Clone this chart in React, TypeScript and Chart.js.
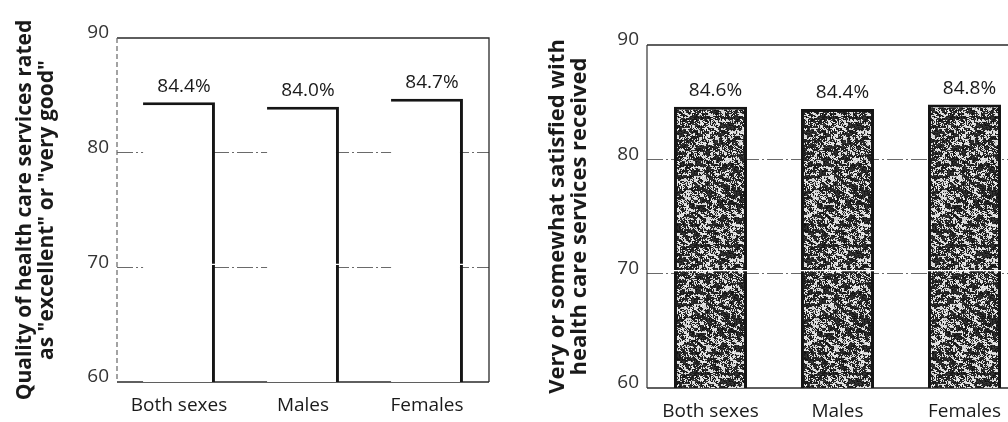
import React, { useEffect, useRef } from "react";
import { Chart, registerables } from "chart.js";

Chart.register(...registerables);

// Survey results, per cent of respondents
const categories = ["Both sexes", "Males", "Females"];
const qualityValues = [84.4, 84.0, 84.7];
const satisfiedValues = [84.6, 84.4, 84.8];
const yTicks = [60, 70, 80, 90];
const gridValues = [70, 80];
const qualityTitle = [
  "Quality of health care services rated",
  'as "excellent" or "very good"',
];
const satisfiedTitle = [
  "Very or somewhat satisfied with",
  "health care services received",
];

const FONT = "'Open Sans', 'DejaVu Sans', sans-serif";
const INK = "#1a1a1a";

// Speckled print texture used to fill the satisfaction bars
function makeStipple(): CanvasPattern | string {
  const size = 128;
  const c = document.createElement("canvas");
  c.width = size;
  c.height = size;
  const g = c.getContext("2d");
  if (!g) return "#2a2a2a";
  let s = 982451653;
  const rnd = () => {
    s = (s * 1103515245 + 12345) & 0x7fffffff;
    return s / 0x7fffffff;
  };
  const block = 3;
  const cs = Math.ceil(size / block);
  const coarse: number[] = [];
  for (let i = 0; i < cs * cs; i++) coarse.push(rnd());
  const mid = (y: number, x: number) => {
    const a = coarse[(Math.floor(y / block) % cs) * cs + (Math.floor(x / block) % cs)];
    const b = coarse[(Math.floor((y + 1) / block) % cs) * cs + (Math.floor((x + 2) / block) % cs)];
    return (a + b) / 2;
  };
  const img = g.createImageData(size, size);
  for (let y = 0; y < size; y++) {
    for (let x = 0; x < size; x++) {
      const v = 0.6 * mid(y, x) + 0.4 * rnd();
      const light = v > 0.56;
      const shade = light ? 195 + Math.floor(rnd() * 50) : 15 + Math.floor(rnd() * 45);
      const o = (y * size + x) * 4;
      img.data[o] = shade;
      img.data[o + 1] = shade;
      img.data[o + 2] = shade;
      img.data[o + 3] = 255;
    }
  }
  g.putImageData(img, 0, 0);
  return g.createPattern(c, "repeat") || "#2a2a2a";
}

type FrameOpts = {
  leftDash: number[];
  leftColor: string;
  drawRight: boolean;
};

function framePlugin(opts: FrameOpts) {
  return {
    id: "frame",
    beforeDatasetsDraw(chart: any) {
      const { ctx, chartArea: a } = chart;
      ctx.save();
      ctx.strokeStyle = "#2a2a2a";
      ctx.lineWidth = 1.3;
      ctx.beginPath();
      ctx.moveTo(a.left, a.top);
      ctx.lineTo(a.right, a.top);
      if (opts.drawRight) ctx.lineTo(a.right, a.bottom);
      ctx.stroke();
      ctx.lineWidth = 1.5;
      ctx.beginPath();
      ctx.moveTo(a.left, a.bottom);
      ctx.lineTo(a.right, a.bottom);
      ctx.stroke();
      ctx.setLineDash(opts.leftDash);
      ctx.strokeStyle = opts.leftColor;
      ctx.lineWidth = 1.2;
      ctx.beginPath();
      ctx.moveTo(a.left, a.top);
      ctx.lineTo(a.left, a.bottom);
      ctx.stroke();
      ctx.restore();
    },
    afterDatasetsDraw(chart: any) {
      const { ctx } = chart;
      const yScale = chart.scales.y;
      const meta = chart.getDatasetMeta(0);
      const y70 = yScale.getPixelForValue(70) - 3;
      ctx.save();
      // thin break line running through the bars at the 70 level
      ctx.strokeStyle = "#ffffff";
      ctx.lineWidth = 1.4;
      meta.data.forEach((bar: any) => {
        const half = bar.width / 2;
        ctx.beginPath();
        ctx.moveTo(bar.x - half, y70);
        ctx.lineTo(bar.x + half, y70);
        ctx.stroke();
      });
      // value labels above each bar
      ctx.fillStyle = INK;
      ctx.font = `19px ${FONT}`;
      ctx.textAlign = "center";
      ctx.textBaseline = "middle";
      const values = chart.data.datasets[0].data as number[];
      meta.data.forEach((bar: any, i: number) => {
        ctx.fillText(`${values[i].toFixed(1)}%`, bar.x + 5, bar.y - 16);
      });
      ctx.restore();
    },
  };
}

type PanelProps = {
  values: number[];
  title: string[];
  width: number;
  padTop: number;
  padRight: number;
  axisWidth: number;
  xHeight: number;
  xPad: number;
  titlePad: number;
  titleSize: number;
  barPct: number;
  stippled: boolean;
  leftDash: number[];
  leftColor: string;
  drawRight: boolean;
};

function Panel(p: PanelProps) {
  const ref = useRef<HTMLCanvasElement | null>(null);
  useEffect(() => {
    if (!ref.current) return;
    const fill = p.stippled ? makeStipple() : "#ffffff";
    const chart = new Chart(ref.current, {
      type: "bar",
      data: {
        labels: categories,
        datasets: [
          {
            data: p.values,
            backgroundColor: fill as any,
            borderColor: "#151515",
            borderWidth: p.stippled
              ? 3
              : ({ top: 3, right: 3, left: 0, bottom: 0 } as any),
            borderSkipped: false,
            barPercentage: p.barPct,
            categoryPercentage: 1,
          },
        ],
      },
      options: {
        responsive: false,
        animation: false,
        layout: { padding: { left: 0, right: p.padRight, top: p.padTop, bottom: 0 } },
        plugins: { legend: { display: false }, tooltip: { enabled: false } },
        scales: {
          x: {
            grid: { display: false },
            border: { display: false },
            ticks: {
              color: INK,
              padding: p.xPad,
              font: { family: FONT, size: 19 },
            },
            afterFit(scale: any) {
              scale.height = p.xHeight;
            },
          },
          y: {
            min: 60,
            max: 90,
            afterBuildTicks(scale: any) {
              scale.ticks = yTicks.map((v) => ({ value: v }));
            },
            grid: {
              drawTicks: false,
              color: (ctx: any) =>
                gridValues.includes(ctx.tick?.value) ? "#6a6a6a" : "rgba(0,0,0,0)",
              lineWidth: 1.1,
            },
            border: { display: false, dash: [16, 3, 2, 3] },
            ticks: {
              color: "#333333",
              padding: 8,
              labelOffset: -5,
              font: { family: FONT, size: 19 },
            },
            title: {
              display: true,
              text: p.title,
              color: INK,
              padding: { top: p.titlePad, bottom: 0 },
              font: {
                family: FONT,
                size: p.titleSize,
                weight: "bold",
                lineHeight: 22 / p.titleSize,
              },
            },
            afterFit(scale: any) {
              scale.width = p.axisWidth;
            },
          },
        },
      },
      plugins: [
        framePlugin({ leftDash: p.leftDash, leftColor: p.leftColor, drawRight: p.drawRight }),
      ],
    });
    return () => chart.destroy();
  }, []);
  return <canvas ref={ref} width={p.width} height={422} style={{ display: "block" }} />;
}

export default function App() {
  useEffect(() => {
    document.body.style.margin = "0";
  }, []);
  return (
    <div
      style={{
        position: "absolute",
        left: 0,
        top: 0,
        width: 1008,
        height: 422,
        overflow: "hidden",
        background: "#ffffff",
      }}
    >
      <div style={{ position: "absolute", left: 0, top: 0 }}>
        <Panel
          values={qualityValues}
          title={qualityTitle}
          width={500}
          padTop={38}
          padRight={11}
          axisWidth={117}
          xHeight={40}
          xPad={4}
          titlePad={14}
          titleSize={21}
          barPct={0.58}
          stippled={false}
          leftDash={[5, 3]}
          leftColor="#666666"
          drawRight={true}
        />
      </div>
      <div style={{ position: "absolute", left: 500, top: 0 }}>
        <Panel
          values={satisfiedValues}
          title={satisfiedTitle}
          width={540}
          padTop={45}
          padRight={12}
          axisWidth={147}
          xHeight={34}
          xPad={4}
          titlePad={47}
          titleSize={22}
          barPct={0.575}
          stippled={true}
          leftDash={[]}
          leftColor="#333333"
          drawRight={false}
        />
      </div>
    </div>
  );
}
